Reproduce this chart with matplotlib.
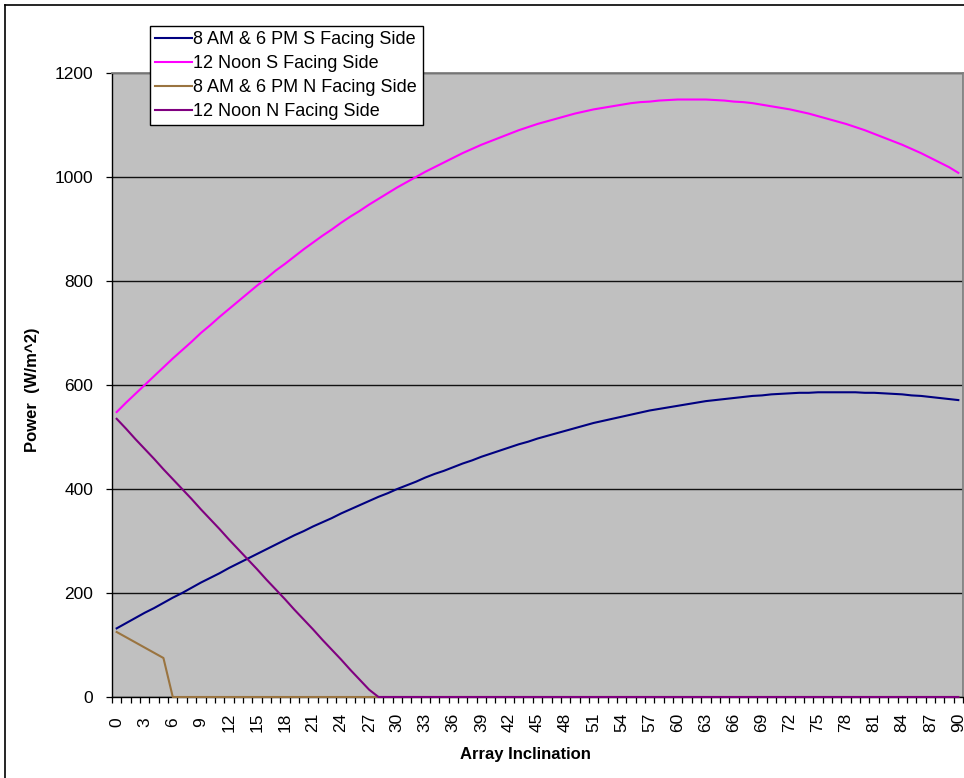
import matplotlib
matplotlib.use("Agg")
import matplotlib.pyplot as plt
from matplotlib.lines import Line2D
from matplotlib.ticker import FixedLocator, NullFormatter

plt.rcParams['font.family'] = ['Liberation Sans', 'DejaVu Sans']

# Array inclination (degrees)
inclination = list(range(0, 91))

# Incident power (W/m^2) for each series
s_side_8am_6pm = [
    132, 142, 152, 162, 171, 181, 191, 200, 210, 220,
    229, 238, 248, 257, 266, 275, 284, 293, 302, 311,
    319, 328, 336, 344, 353, 361, 369, 377, 385, 392,
    400, 407, 414, 422, 429, 435, 442, 449, 455, 462,
    468, 474, 480, 486, 491, 497, 502, 507, 512, 517,
    522, 527, 531, 535, 539, 543, 547, 551, 554, 557,
    560, 563, 566, 569, 571, 573, 575, 577, 579, 580,
    582, 583, 584, 585, 585, 586, 586, 586, 586, 586,
    585, 585, 584, 583, 582, 580, 579, 577, 575, 573,
    571,
]

s_side_noon = [
    548, 566, 583, 600, 617, 634, 651, 667, 683, 700,
    715, 731, 746, 761, 776, 791, 805, 820, 833, 847,
    861, 874, 887, 899, 912, 924, 935, 947, 958, 969,
    980, 990, 1000, 1010, 1019, 1028, 1037, 1046, 1054, 1062,
    1069, 1076, 1083, 1090, 1096, 1102, 1107, 1112, 1117, 1122,
    1126, 1130, 1133, 1136, 1139, 1142, 1144, 1145, 1147, 1148,
    1149, 1149, 1149, 1149, 1148, 1147, 1145, 1144, 1142, 1139,
    1136, 1133, 1130, 1126, 1122, 1117, 1112, 1107, 1102, 1096,
    1090, 1083, 1076, 1069, 1062, 1054, 1046, 1037, 1028, 1019,
    1008,
]

n_side_8am_6pm = [125, 115, 105, 95, 85, 75] + [0] * 85

n_side_noon = [
    535, 516, 496, 477, 458, 438, 419, 400, 381, 361,
    342, 323, 303, 284, 265, 246, 226, 207, 188, 168,
    149, 130, 110, 91, 72, 52, 33, 14,
] + [0] * 63

series_labels = [
    "8 AM & 6 PM S Facing Side",
    "12 Noon S Facing Side",
    "8 AM & 6 PM N Facing Side",
    "12 Noon N Facing Side",
]
series_colors = ["#000080", "#FF00FF", "#9A7440", "#800080"]

W, H = 964, 778
fig = plt.figure(figsize=(W / 100, H / 100), dpi=100)
fig.patch.set_facecolor("white")

ax = fig.add_axes([112 / W, 1 - 697 / H, (963 - 112) / W, (697 - 73) / H])
ax.set_facecolor("#C0C0C0")

for ys, lab, col in zip(
    [s_side_8am_6pm, s_side_noon, n_side_8am_6pm, n_side_noon],
    series_labels, series_colors,
):
    ax.plot(inclination, ys, color=col, lw=1.5, label=lab, clip_on=False, zorder=3)

ax.set_xlim(-0.5, 90.5)
ax.set_ylim(0, 1200)

# y axis
ax.set_yticks(range(0, 1201, 200))
ax.tick_params(axis="y", direction="out", length=4.5, width=0.9, pad=9,
               labelsize=12.5, colors="black")
ax.yaxis.grid(True, color="#111111", lw=1.0)
ax.set_axisbelow(True)

# x axis: category boundaries get tick marks, every third category a label
ax.xaxis.set_major_locator(FixedLocator(list(range(0, 91, 3))))
ax.set_xticklabels([str(v) for v in range(0, 91, 3)], rotation=90, va="center")
ax.xaxis.set_minor_locator(FixedLocator([i - 0.5 for i in range(0, 92)]))
ax.xaxis.set_minor_formatter(NullFormatter())
ax.tick_params(axis="x", which="major", length=0, pad=18, labelsize=12.5)
ax.tick_params(axis="x", which="minor", direction="out", length=4, width=0.9)

for side in ("left", "bottom"):
    ax.spines[side].set_color("black")
    ax.spines[side].set_linewidth(1.0)
for side in ("top", "right"):
    ax.spines[side].set_color("#808080")
    ax.spines[side].set_linewidth(1.3)

fig.text(525 / W, 1 - 754 / H, "Array Inclination", ha="center", va="center",
         fontsize=12, fontweight="bold")
fig.text(32 / W, 1 - 390 / H, "Power  (W/m^2)", ha="center", va="center",
         rotation=90, fontsize=12, fontweight="bold")

leg = ax.legend(
    loc="upper left", bbox_to_anchor=(150 / W, 1 - 26 / H),
    bbox_transform=fig.transFigure, borderaxespad=0,
    fontsize=13.0, handlelength=2.0, handletextpad=0.1,
    labelspacing=0.38, borderpad=0.3, fancybox=False, shadow=False,
    framealpha=1, edgecolor="black",
)
leg.get_frame().set_linewidth(1.0)
leg.set_zorder(10)

# chart area frame
fig.add_artist(Line2D([5 / W, 1.0], [1 - 5 / H, 1 - 5 / H], transform=fig.transFigure,
                      color="black", lw=1.2))
fig.add_artist(Line2D([5 / W, 5 / W], [0.0, 1 - 5 / H], transform=fig.transFigure,
                      color="black", lw=1.2))

fig.savefig("out.png", dpi=100)
